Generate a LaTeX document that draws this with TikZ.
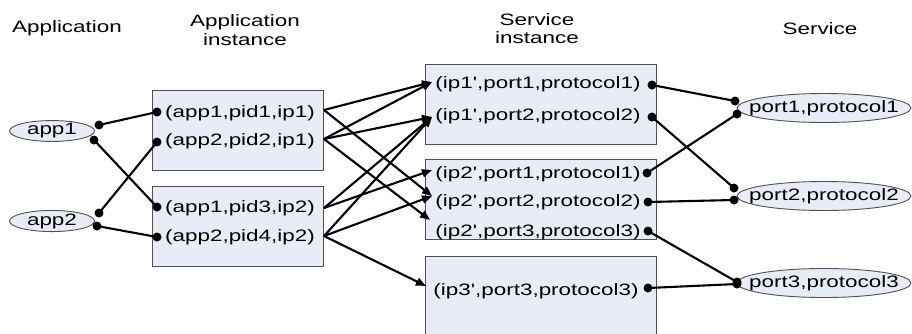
\documentclass[tikz,border=0pt]{standalone}
\usepackage{fontspec}
\setmainfont[FakeStretch=1.36,Ligatures=TeXOff]{Liberation Sans}
\usetikzlibrary{arrows.meta,shapes.geometric}
\definecolor{boxfill}{RGB}{231,236,247}
\definecolor{boxline}{RGB}{80,80,80}

\begin{document}
\begin{tikzpicture}[x=1pt,y=-1pt,
  txt/.style={font=\fontsize{16.5}{18.5}\selectfont, inner sep=0pt},
  head/.style={txt, align=center},
  panel/.style={draw=boxline, fill=boxfill, line width=0.9pt},
  oval/.style={ellipse, draw=boxline, fill=boxfill, line width=0.9pt,
    inner xsep=0pt, inner ysep=-1pt, txt},
  link/.style={line width=2.1pt, black},
  arrowlink/.style={link, -{Triangle[length=10pt,width=8pt]}},
  dot/.style={fill=black}]

\useasboundingbox (0,0) rectangle (912,333);
\clip (0,0) rectangle (912,333);

% column headings
\node[head] (hApp) at (67,28.7) {Application};
\node[head] (hAppInst) at (245,30) {Application\\instance};
\node[head] (hSrvInst) at (537,28.5) {Service\\instance};
\node[head] (hSrv) at (820,29) {Service};

% application instance panels
\draw[panel] (152,90) rectangle (323,170);
\draw[panel] (152,186) rectangle (323,266);

% service instance panels
\draw[panel] (425,64) rectangle (656,144);
\draw[panel] (425,159) rectangle (656,239);
\draw[panel] (425,256) rectangle (656,345);

% applications and services
\node[oval, minimum width=85pt, minimum height=20pt] (app1) at (52,131) {\makebox[0pt]{app1}};
\node[oval, minimum width=85pt, minimum height=20pt] (app2) at (52,221) {\makebox[0pt]{app2}};
\node[oval, minimum width=174pt, minimum height=29pt] (srv1) at (824,108) {\makebox[0pt]{port1,protocol1}};
\node[oval, minimum width=174pt, minimum height=29pt] (srv2) at (824,196) {\makebox[0pt]{port2,protocol2}};
\node[oval, minimum width=174pt, minimum height=29pt] (srv3) at (824,283) {\makebox[0pt]{port3,protocol3}};

% application instance rows
\node[txt] (ai1) at (240,113) {(app1,pid1,ip1)};
\node[txt] (ai2) at (240,141.5) {(app2,pid2,ip1)};
\node[txt] (ai3) at (240,208) {(app1,pid3,ip2)};
\node[txt] (ai4) at (240,237) {(app2,pid4,ip2)};

% service instance rows
\node[txt] (si11) at (538,84) {(ip1',port1,protocol1)};
\node[txt] (si12) at (538,116) {(ip1',port2,protocol2)};
\node[txt] (si21) at (538,174) {(ip2',port1,protocol1)};
\node[txt] (si22) at (538,202.5) {(ip2',port2,protocol2)};
\node[txt] (si23) at (538,232) {(ip2',port3,protocol3)};
\node[txt] (si31) at (536,291) {(ip3',port3,protocol3)};

% connection points
\coordinate (app1a) at (99,125);
\coordinate (app1b) at (94,140);
\coordinate (app2a) at (99,213);
\coordinate (app2b) at (97,226);

\coordinate (ai1in) at (157,112);
\coordinate (ai2in) at (157,142);
\coordinate (ai3in) at (157,207);
\coordinate (ai4in) at (157,237);

\coordinate (ai1out) at (324,110);
\coordinate (ai2out) at (324,139);
\coordinate (ai3out) at (324,208);
\coordinate (ai4out) at (324,236);

\coordinate (si11in) at (432,82);
\coordinate (si12in) at (432,117);
\coordinate (si21in) at (432,170);
\coordinate (si22in) at (432,196);
\coordinate (si23in) at (430,220);
\coordinate (si31in) at (426,286);

\coordinate (si11out) at (652,85);
\coordinate (si12out) at (652,117);
\coordinate (si21out) at (647,173);
\coordinate (si22out) at (648,202);
\coordinate (si23out) at (648,231);
\coordinate (si31out) at (648,288);

\coordinate (srv1a) at (735,101);
\coordinate (srv1b) at (737,114);
\coordinate (srv2a) at (734,188);
\coordinate (srv2b) at (734,200);
\coordinate (srv3a) at (737,282);
\coordinate (srv3b) at (737,284);

% application -> application instance
\draw[link] (app1a) -- (ai1in);
\draw[link] (app1b) -- (ai3in);
\draw[link] (app2a) -- (ai2in);
\draw[link] (app2b) -- (ai4in);

% application instance -> service instance
\draw[arrowlink] (ai1out) -- (si11in);
\draw[arrowlink] (ai1out) -- (si22in);
\draw[arrowlink] (ai2out) -- (si11in);
\draw[arrowlink] (ai2out) -- (si12in);
\draw[arrowlink] (ai2out) -- (si23in);
\draw[arrowlink] (ai3out) -- (si12in);
\draw[arrowlink] (ai3out) -- (si21in);
\draw[arrowlink] (ai4out) -- (si12in);
\draw[arrowlink] (ai4out) -- (si22in);
\draw[arrowlink] (ai4out) -- (si31in);

% service instance -> service
\draw[link] (si11out) -- (srv1a);
\draw[link] (si12out) -- (srv2a);
\draw[link] (si21out) -- (srv1b);
\draw[link] (si22out) -- (srv2b);
\draw[link] (si23out) -- (srv3a);
\draw[link] (si31out) -- (srv3b);

% end dots
\foreach \c in {app1a,app1b,app2a,app2b,ai1in,ai2in,ai3in,ai4in,
                si11out,si12out,si21out,si22out,si23out,si31out,
                srv1a,srv1b,srv2a,srv2b,srv3a,srv3b}
  \fill[dot] (\c) circle (4.5pt);
\end{tikzpicture}
\end{document}
